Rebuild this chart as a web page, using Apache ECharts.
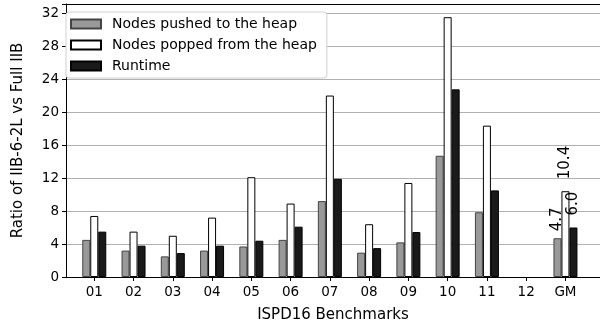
<!DOCTYPE html>
<html><head><meta charset="utf-8">
<script src="https://cdn.jsdelivr.net/npm/echarts@6/dist/echarts.min.js"></script>
<style>html,body{margin:0;padding:0;background:#fff}#c{width:600px;height:326px}</style>
</head><body><div id="c"></div>
<script>
const categories = ['01','02','03','04','05','06','07','08','09','10','11','12','GM'];
const pushed  = [4.5, 3.2, 2.5, 3.2, 3.7, 4.5, 9.2, 2.95, 4.2, 14.7, 7.85, null, 4.7];
const popped  = [7.4, 5.5, 5.0, 7.2, 12.1, 8.9, 22.0, 6.4, 11.4, 31.5, 18.35, null, 10.4];
const runtime = [5.5, 3.8, 2.9, 3.8, 4.4, 6.1, 11.9, 3.5, 5.45, 22.75, 10.5, null, 6.0];
const yTicks = [0,4,8,12,16,20,24,28,32];
const gmLabels = {pushed:'4.7', popped:'10.4', runtime:'6.0'};

const FONT = 'DejaVu Sans';
const idx = categories.map((c,i)=>i);
const labelDist = {pushed:7, popped:12, runtime:12};
function toData(arr, key){
  const out = [];
  arr.forEach((v,i)=>{
    if (v === null) return;
    const d = {value:[i, v]};
    if (categories[i] === 'GM') {
      d.label = {show:true, formatter: gmLabels[key], distance: labelDist[key]};
    }
    out.push(d);
  });
  return out;
}
const labelStyle = {position:'top', rotate:90, align:'left', verticalAlign:'middle', distance:6,
  fontFamily:FONT, fontSize:15, color:'#000'};
const chart = echarts.init(document.getElementById('c'), null, {renderer:'canvas'});
chart.setOption({
  animation:false,
  textStyle:{fontFamily:FONT},
  grid:{left:66, right:0, top:4, bottom:49, containLabel:false, outerBoundsMode:'none'},
  legend:{
    left:66, top:12, orient:'vertical', icon:'rect',
    backgroundColor:'#fff', borderColor:'#d0d0d0', borderWidth:1, borderRadius:3,
    padding:[5,10,5,4], itemGap:7, itemWidth:30, itemHeight:9,
    textStyle:{fontFamily:FONT, fontSize:14, color:'#000', padding:[0,0,0,6]},
    data:['Nodes pushed to the heap','Nodes popped from the heap','Runtime']
  },
  xAxis:[{
    type:'value', min:-0.72, max:12.88,
    name:'ISPD16 Benchmarks', nameLocation:'middle', nameGap:31,
    nameTextStyle:{fontFamily:FONT, fontSize:15, color:'#000'},
    axisLine:{show:true, onZero:false, lineStyle:{color:'#000', width:1}},
    axisTick:{show:true, customValues:idx, length:4, lineStyle:{color:'#000'}},
    axisLabel:{customValues:idx, formatter:(v)=>categories[Math.round(v)] ?? '', fontFamily:FONT, fontSize:13.5, color:'#000', margin:8},
    splitLine:{show:false}
  },{
    type:'value', position:'top', min:-0.72, max:12.88,
    axisLine:{show:true, onZero:false, lineStyle:{color:'#000', width:1}},
    axisTick:{show:false}, axisLabel:{show:false}, splitLine:{show:false}
  }],
  yAxis:{
    type:'value', min:0, max:33.1, interval:4,
    name:'Ratio of IIB-6-2L vs Full IIB', nameLocation:'middle', nameGap:40,
    nameTextStyle:{fontFamily:FONT, fontSize:15, color:'#000'},
    axisLine:{show:true, onZero:false, lineStyle:{color:'#000', width:1}},
    axisTick:{show:true, length:4, lineStyle:{color:'#000'}},
    axisLabel:{fontFamily:FONT, fontSize:13.5, color:'#000', margin:7,
      formatter:(v)=> yTicks.includes(v) ? String(v) : ''},
    splitLine:{show:true, lineStyle:{color:'#b0b0b0', width:1}}
  },
  series:[
    {name:'Nodes pushed to the heap', type:'bar', barWidth:8, barGap:'0%',
     itemStyle:{color:'#999999', borderColor:'#444', borderWidth:1},
     label:labelStyle, data:toData(pushed,'pushed')},
    {name:'Nodes popped from the heap', type:'bar', barWidth:8, barGap:'0%',
     itemStyle:{color:'#ffffff', borderColor:'#000', borderWidth:1},
     label:labelStyle, data:toData(popped,'popped')},
    {name:'Runtime', type:'bar', barWidth:8, barGap:'0%',
     itemStyle:{color:'#1a1a1a', borderColor:'#000', borderWidth:1},
     label:labelStyle, data:toData(runtime,'runtime')}
  ]
});
</script></body></html>
